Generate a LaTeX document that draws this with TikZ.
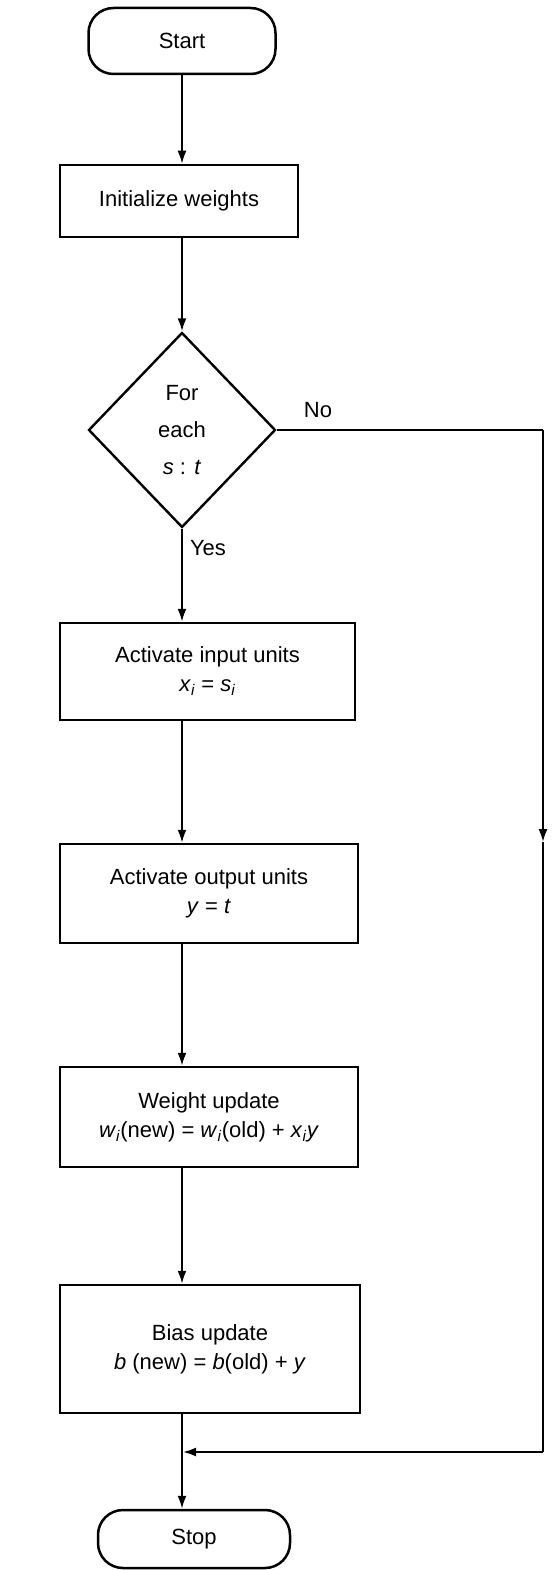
\documentclass[tikz,border=0pt]{standalone}
\usepackage{fontspec}
\setmainfont{Liberation Sans}
\usetikzlibrary{shapes.geometric,arrows.meta}
\newcommand{\vr}[1]{\textit{#1}}
\newcommand{\sbi}{\textsubscript{\textit{i}}}
\begin{document}
\begin{tikzpicture}[x=1pt,y=-1pt,
  lbl/.style={font=\fontsize{22}{29}\selectfont},
  terminal/.style={lbl, draw, line width=2.5pt, rounded corners=25pt, inner sep=0pt},
  procbox/.style={lbl, draw, line width=2.5pt, align=center, inner sep=0pt},
  decision/.style={draw, line width=2.4pt, diamond, aspect=1, inner sep=0pt, align=center,
    font=\fontsize{22}{37}\selectfont},
  flow/.style={line width=2pt},
  arr/.style={flow, -{Latex[length=13pt,width=9pt]}}]
\useasboundingbox (0,0) rectangle (551,1570);

% flowchart blocks
\node[terminal, minimum width=187pt, minimum height=66pt] (start) at (182,41) {Start};
\node[procbox, minimum width=238pt, minimum height=72pt] (init) at (179,201) {Initialize weights};
\node[decision, minimum width=187pt, minimum height=195pt] (dec) at (182,430) {For\\each\\\vr{s} : \vr{t}};
\node[procbox, minimum width=295pt, minimum height=97pt] (inp) at (207.5,671.5)
  {Activate input units\\\vr{x}\sbi{} = \vr{s}\sbi};
\node[procbox, minimum width=298pt, minimum height=99pt] (outp) at (209,893.5)
  {Activate output units\\\vr{y} = \vr{t}};
\node[procbox, minimum width=298pt, minimum height=100pt] (wup) at (209,1117)
  {Weight update\\\vr{w}\sbi(new) = \vr{w}\sbi(old) + \vr{x}\sbi\vr{y}};
\node[procbox, minimum width=300pt, minimum height=128pt] (bup) at (210,1349)
  {Bias update\\\vr{b} (new) = \vr{b}(old) + \vr{y}};
\node[terminal, minimum width=192pt, minimum height=58pt] (stop) at (194,1539) {Stop};

% branch labels
\node[lbl] (nolbl) at (318,410) {No};
\node[lbl] (yeslbl) at (208,548) {Yes};

% main column
\draw[arr] (start.south) -- (start.south |- init.north);
\draw[arr] (init.south -| dec.north) -- (dec.north);
\draw[arr] (dec.south) -- (dec.south |- inp.north);
\draw[arr] (dec.south |- inp.south) -- (dec.south |- outp.north);
\draw[arr] (dec.south |- outp.south) -- (dec.south |- wup.north);
\draw[arr] (dec.south |- wup.south) -- (dec.south |- bup.north);
\coordinate (join) at (dec.south |- 0,1452);
\draw[arr] (dec.south |- bup.south) -- (dec.south |- stop.north);

% "No" branch around the right side
\coordinate (ne) at (543,430);
\coordinate (mid) at (543,842);
\coordinate (se) at (543,1452);
\draw[flow] (dec.east) -- (ne);
\draw[arr] (ne) -- (mid);
\draw[flow] (mid) -- (se);
\draw[arr] (se) -- ([xshift=1pt]join);
\end{tikzpicture}
\end{document}
